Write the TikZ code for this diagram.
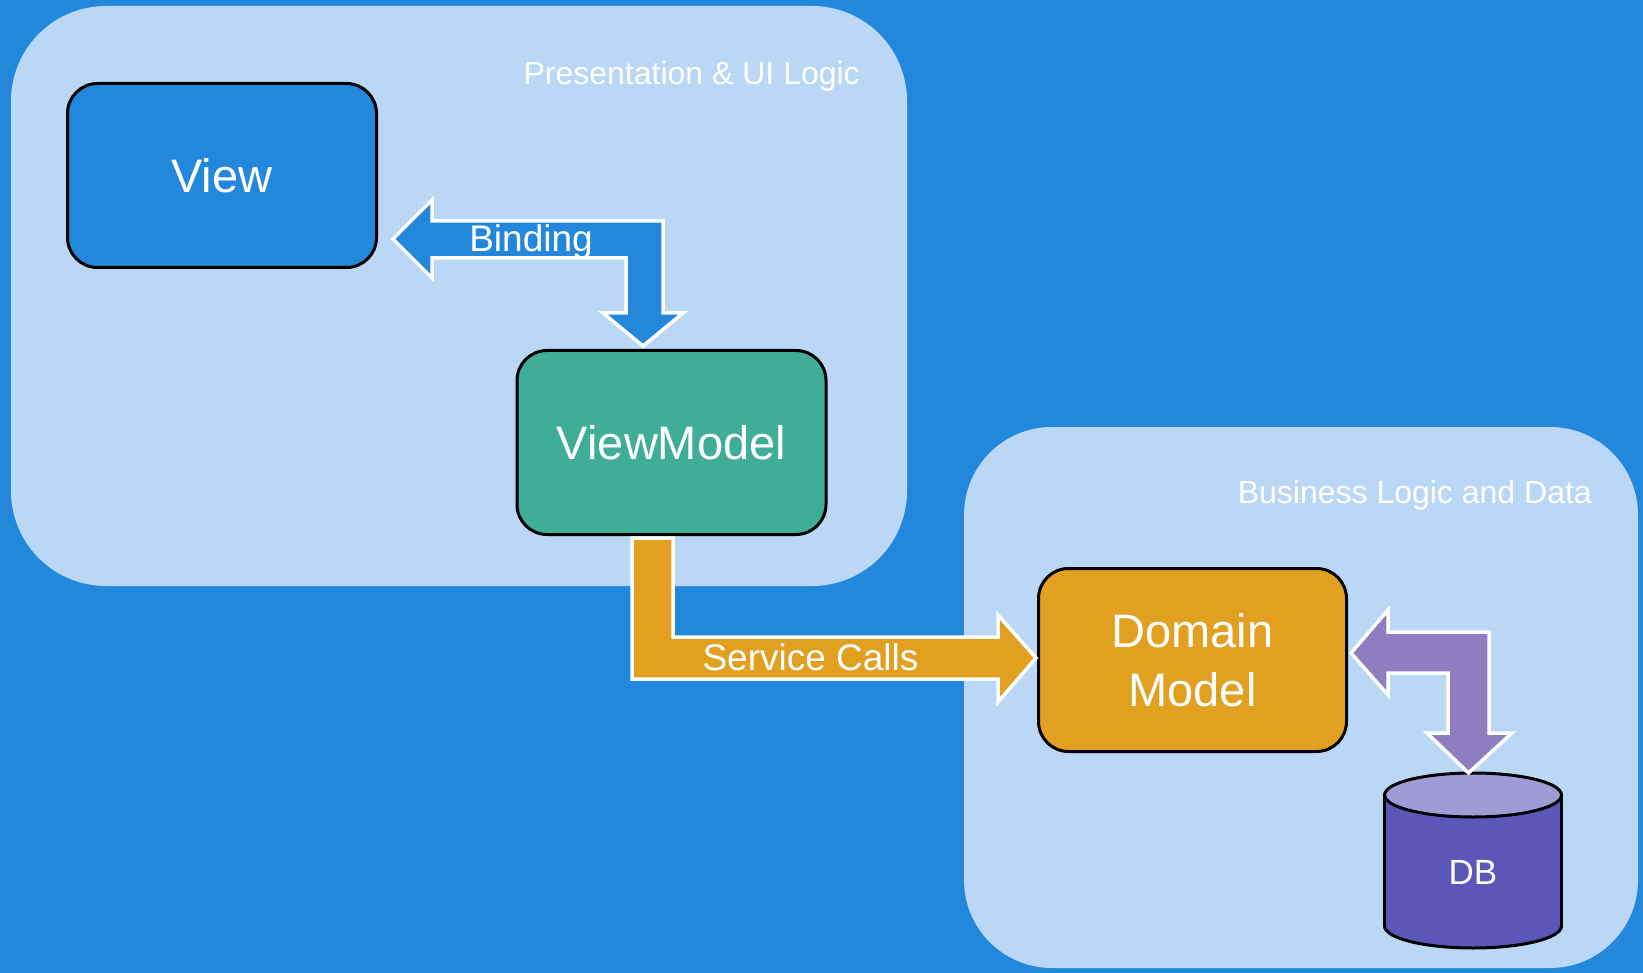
\documentclass[tikz,border=0pt]{standalone}
\usepackage{fontspec}
\setmainfont{Liberation Sans}
\usetikzlibrary{calc}

\definecolor{canvasblue}{HTML}{2388DC}
\definecolor{panelblue}{HTML}{BAD8F5}
\definecolor{vmteal}{HTML}{40AD98}
\definecolor{domorange}{HTML}{E1A020}
\definecolor{linkpurple}{HTML}{8D7DC1}
\definecolor{dbside}{HTML}{5B57B8}
\definecolor{dbtop}{HTML}{9F9BD6}

\begin{document}
\begin{tikzpicture}[x=1pt, y=-1pt,
  panel/.style={fill=panelblue, inner sep=0pt, outer sep=0pt},
  panellabel/.style={text=white, inner sep=0pt, font=\fontsize{32}{38}\selectfont},
  box/.style={draw=black, line width=3pt, rounded corners=30pt,
    minimum width=309pt, minimum height=184pt, inner sep=0pt,
    text=white, align=center, font=\fontsize{47}{59}\selectfont},
  blockarrow/.style={draw=white, line width=3.5pt, line join=miter},
  arrowlabel/.style={text=white, inner sep=0pt, anchor=base, font=\fontsize{37}{44}\selectfont}
]
  % canvas
  \fill[canvasblue] (0,0) rectangle (1643,973);
  \useasboundingbox (0,0) rectangle (1643,973);

  % layer panels
  \node[panel, rounded corners=95pt, minimum width=896pt, minimum height=580pt] (pres) at (459,296) {};
  \node[panel, rounded corners=88pt, minimum width=674pt, minimum height=541pt] (biz) at (1301,697.5) {};
  \node[panellabel, anchor=base east] (preslabel) at (860,85) {Presentation \& UI Logic};
  \node[panellabel, anchor=base east] (bizlabel) at (1592,503) {Business Logic and Data};

  % components
  \node[box, fill=canvasblue] (view) at (222,175.5) {View};
  \node[box, fill=vmteal] (vm) at (671.5,442.5) {ViewModel};
  \node[box, fill=domorange, minimum width=308pt, minimum height=183pt] (dm) at (1192.5,660) {Domain\\Model};

  % database cylinder
  \begin{scope}[line width=3pt, draw=black]
    \filldraw[fill=dbside] (1473,926) ellipse [x radius=88.5pt, y radius=22pt];
    \fill[dbside] (1384.5,795) rectangle (1561.5,926);
    \draw (1384.5,795) -- (1384.5,926);
    \draw (1561.5,795) -- (1561.5,926);
    \filldraw[fill=dbtop] (1473,795) ellipse [x radius=88.5pt, y radius=22pt];
  \end{scope}
  \node[text=white, inner sep=0pt, font=\fontsize{35}{42}\selectfont] (db) at (1473,872.5) {DB};

  % View <-> ViewModel binding
  \draw[blockarrow, fill=canvasblue] ($(view.east)+(15,63.5)$)
    -- ++(39,-39) -- ++(0,21) -- ++(231,0) -- ++(0,92) -- ++(20,0)
    -- ++(-40,33) -- ++(-40,-33) -- ++(23,0) -- ++(0,-55) -- ++(-194,0)
    -- ++(0,20) -- cycle;
  \node[arrowlabel] (bindlabel) at (531,252) {Binding};

  % ViewModel -> Domain Model service calls
  \draw[blockarrow, fill=domorange] ($(vm.south)+(-39.5,2)$)
    -- ++(41,0) -- ++(0,99) -- ++(325,0) -- ++(0,-22) -- ++(38,43)
    -- ++(-38,44) -- ++(0,-23) -- ++(-366,0) -- cycle;
  \node[arrowlabel] (calllabel) at (810.5,670) {Service Calls};

  % Domain Model <-> DB
  \draw[blockarrow, fill=linkpurple] ($(dm.east)+(3,-7)$)
    -- ++(37,-43) -- ++(0,22) -- ++(101,0) -- ++(0,101) -- ++(23,0)
    -- ++(-43.5,40) -- ++(-41.5,-40) -- ++(21,0) -- ++(0,-60) -- ++(-60,0)
    -- ++(0,22) -- cycle;
\end{tikzpicture}
\end{document}
